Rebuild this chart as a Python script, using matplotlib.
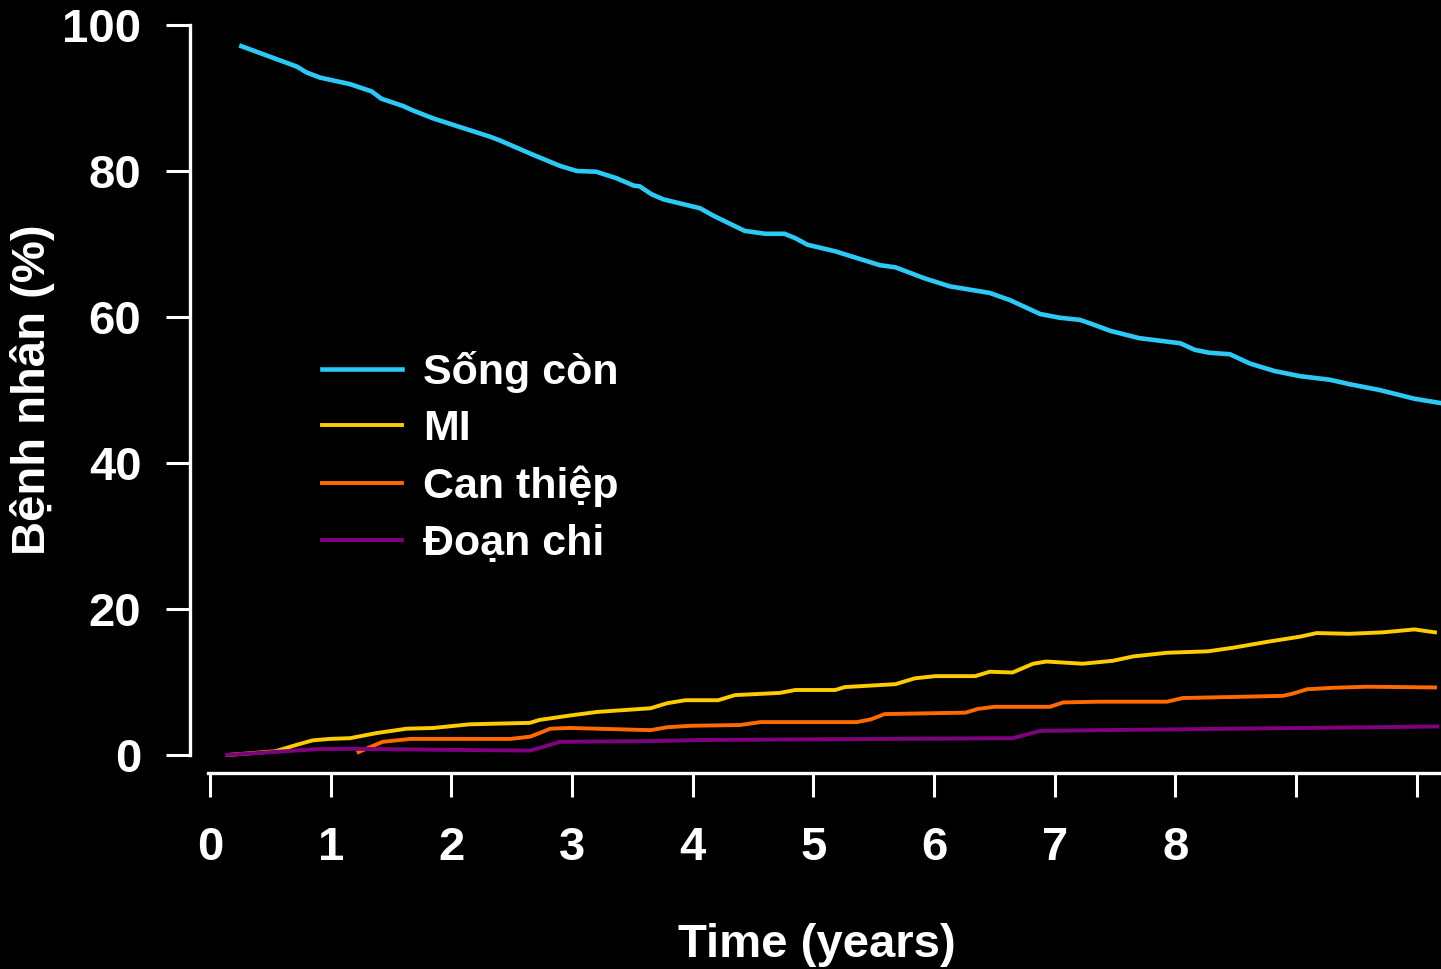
import matplotlib
matplotlib.use('Agg')
import matplotlib.pyplot as plt
from matplotlib import rcParams

rcParams['font.family'] = ['Liberation Sans', 'DejaVu Sans']
rcParams['font.weight'] = 'bold'

# curves (years, percent of patients)
song_con_x = [0.26, 0.72, 0.80, 0.91, 1.16, 1.34, 1.42, 1.60, 1.68, 1.85, 2.32, 2.40,
              2.68, 2.90, 3.04, 3.20, 3.37, 3.51, 3.56, 3.66, 3.76, 4.06, 4.18, 4.43,
              4.60, 4.76, 4.85, 4.95, 5.18, 5.55, 5.68, 5.92, 6.13, 6.46, 6.63, 6.88,
              7.04, 7.21, 7.33, 7.46, 7.70, 8.04, 8.16, 8.28, 8.45, 8.62, 8.82, 9.03,
              9.28, 9.44, 9.69, 9.98, 10.20]
song_con_y = [97.1, 94.3, 93.5, 92.8, 91.9, 90.9, 89.9, 88.9, 88.3, 87.2, 84.7, 84.2,
              82.2, 80.7, 80.0, 79.9, 79.0, 78.0, 77.9, 76.8, 76.1, 74.9, 73.8, 71.8,
              71.4, 71.4, 70.8, 69.9, 69.0, 67.1, 66.8, 65.3, 64.2, 63.3, 62.3, 60.4,
              59.9, 59.6, 58.9, 58.1, 57.1, 56.4, 55.5, 55.1, 54.9, 53.6, 52.6, 51.9,
              51.4, 50.8, 50.0, 48.8, 48.2]

mi_x = [0.15, 0.54, 0.72, 0.85, 0.99, 1.16, 1.38, 1.63, 1.85, 2.15, 2.65, 2.73, 2.98,
        3.21, 3.65, 3.79, 3.94, 4.21, 4.35, 4.72, 4.85, 5.18, 5.26, 5.68, 5.84, 6.01,
        6.34, 6.46, 6.65, 6.82, 6.93, 7.23, 7.48, 7.65, 7.93, 8.27, 8.48, 8.76, 9.03,
        9.17, 9.44, 9.72, 9.98, 10.15]
mi_y = [0.0, 0.5, 1.4, 2.0, 2.2, 2.3, 3.0, 3.6, 3.7, 4.2, 4.4, 4.8, 5.4,
        5.9, 6.4, 7.1, 7.5, 7.5, 8.2, 8.5, 8.9, 8.9, 9.3, 9.7, 10.5, 10.8,
        10.8, 11.4, 11.3, 12.5, 12.8, 12.5, 12.9, 13.5, 14.0, 14.2, 14.7, 15.5, 16.2,
        16.7, 16.6, 16.8, 17.2, 16.8]

can_thiep_x = [1.23, 1.43, 1.66, 2.49, 2.65, 2.73, 2.82, 2.98, 3.65, 3.79, 3.98, 4.39,
               4.56, 5.36, 5.48, 5.59, 6.26, 6.36, 6.50, 6.96, 7.07, 7.37, 7.93, 8.06,
               8.34, 8.89, 8.97, 9.09, 9.30, 9.59, 10.15]
can_thiep_y = [0.4, 1.8, 2.2, 2.2, 2.5, 3.0, 3.6, 3.7, 3.4, 3.8, 4.0, 4.1,
               4.5, 4.5, 4.9, 5.6, 5.8, 6.3, 6.6, 6.6, 7.2, 7.3, 7.3, 7.8,
               7.9, 8.1, 8.4, 9.0, 9.2, 9.35, 9.25]

doan_chi_x = [0.14, 0.56, 0.89, 1.16, 1.99, 2.65, 2.78, 2.90, 3.65, 4.06, 6.65, 6.88,
              7.37, 10.17]
doan_chi_y = [0.0, 0.45, 0.8, 0.85, 0.7, 0.6, 1.2, 1.8, 1.9, 2.05, 2.3, 3.3,
              3.4, 3.9]

labels = ['Sống còn', 'MI', 'Can thiệp', 'Đoạn chi']
colors = ['#2EC8F5', '#FFCC00', '#FF6A00', '#800080']

x_ticks = list(range(0, 11))
x_ticklabels = ['0', '1', '2', '3', '4', '5', '6', '7', '8', '', '']
y_ticks = [0, 20, 40, 60, 80, 100]

fig = plt.figure(figsize=(14.41, 9.69), dpi=100, facecolor='black')
ax = fig.add_axes([190 / 1441, 1 - 773 / 969, 1251 / 1441, 748 / 969])
ax.set_facecolor('black')

ax.plot(song_con_x, song_con_y, color=colors[0], lw=3.3, label=labels[0],
        solid_joinstyle='round')
ax.plot(mi_x, mi_y, color=colors[1], lw=2.8, label=labels[1], solid_joinstyle='round')
ax.plot(can_thiep_x, can_thiep_y, color=colors[2], lw=2.8, label=labels[2],
        solid_joinstyle='round')
ax.plot(doan_chi_x, doan_chi_y, color=colors[3], lw=2.8, label=labels[3],
        solid_joinstyle='round')

ax.set_xlim(-0.166, 10.2)
ax.set_ylim(-2.47, 100)

for s in ['top', 'right']:
    ax.spines[s].set_visible(False)
for s in ['left', 'bottom']:
    ax.spines[s].set_color('white')
    ax.spines[s].set_linewidth(2.4)
ax.spines['left'].set_bounds(0, 100)
ax.spines['bottom'].set_bounds(-0.02, 10.2)

ax.set_xticks(x_ticks)
ax.set_xticklabels(x_ticklabels)
ax.set_yticks(y_ticks)
ax.tick_params(axis='both', colors='white', width=2.2, length=17, labelsize=34)
ax.tick_params(axis='x', pad=21)
ax.tick_params(axis='y', pad=18)
for t in ax.get_xticklabels() + ax.get_yticklabels():
    t.set_fontweight('bold')

fig.text(817 / 1441, 1 - 945 / 969, 'Time (years)', color='white', fontsize=34,
         fontweight='bold', ha='center', va='center')
fig.text(33 / 1441, 1 - 390 / 969, 'Bệnh nhân (%)', color='white', fontsize=34,
         fontweight='bold', ha='center', va='center', rotation=90)

leg = ax.legend(loc='upper left', bbox_to_anchor=(322 / 1441, 1 - 351 / 969),
                bbox_transform=fig.transFigure, frameon=False, fontsize=31,
                handlelength=1.85, handletextpad=0.5, labelspacing=0.38,
                borderpad=0, borderaxespad=0)
for t in leg.get_texts():
    t.set_color('white')
    t.set_fontweight('bold')

fig.savefig('out.png', dpi=100, facecolor='black')
